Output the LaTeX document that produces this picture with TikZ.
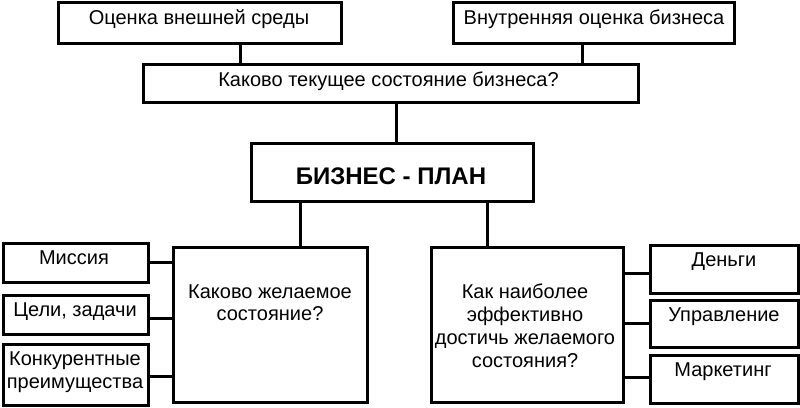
\documentclass[tikz,border=0pt]{standalone}
\usepackage{fontspec}
\setmainfont{Liberation Sans}
\usetikzlibrary{calc}
\begin{document}
\begin{tikzpicture}[x=1pt,y=-1pt,
  box/.style={draw=black,line width=3pt,rectangle,inner sep=0pt,fill=white},
  conn/.style={draw=black,line width=3pt},
  txt/.style={inner sep=0pt,font=\fontsize{20}{22.8}\selectfont,align=center},
  btxt/.style={inner sep=0pt,font=\fontsize{24}{28}\selectfont\bfseries}]
\useasboundingbox[fill=white] (0,0) rectangle (800,407);
% boxes
\node[box,minimum width=283pt,minimum height=41pt] (ext) at (199.5,22.5) {};
\node[box,minimum width=281pt,minimum height=41pt] (int) at (593.5,22.5) {};
\node[box,minimum width=495pt,minimum height=38pt] (cur) at (390.5,83) {};
\node[box,minimum width=282pt,minimum height=58pt] (bp) at (392,172) {};
\node[box,minimum width=194pt,minimum height=155pt] (want) at (270,324.5) {};
\node[box,minimum width=192pt,minimum height=155pt] (how) at (527,324.5) {};
\node[box,minimum width=145pt,minimum height=39pt] (mis) at (75.5,262.5) {};
\node[box,minimum width=145pt,minimum height=39pt] (goal) at (75.5,314.5) {};
\node[box,minimum width=145pt,minimum height=61pt] (comp) at (75.5,374.5) {};
\node[box,minimum width=148pt,minimum height=48pt] (money) at (724,269) {};
\node[box,minimum width=148pt,minimum height=47pt] (mgmt) at (724,323.5) {};
\node[box,minimum width=148pt,minimum height=48pt] (mkt) at (724,379) {};
% texts
\node[txt,anchor=base] (t-ext) at (199,24) {Оценка внешней среды};
\node[txt,anchor=base] (t-int) at (594,24) {Внутренняя оценка бизнеса};
\node[txt,anchor=base] (t-cur) at (388.5,86) {Каково текущее состояние бизнеса?};
\node[btxt,anchor=base] (t-bp) at (391,184.5) {БИЗНЕС - ПЛАН};
\node[txt] (t-want) at (270,302.7) {Каково желаемое\\состояние?};
\node[txt] (t-how) at (525,325.7) {Как наиболее\\эффективно\\достичь желаемого\\состояния?};
\node[txt,anchor=base] (t-mis) at (74,264.3) {Миссия};
\node[txt,anchor=base] (t-goal) at (75,316) {Цели, задачи};
\node[txt] (t-comp) at (75,372.5) {Конкурентные\\преимущества};
\node[txt,anchor=base] (t-money) at (724,266) {Деньги};
\node[txt,anchor=base] (t-mgmt) at (724,321.7) {Управление};
\node[txt,anchor=base] (t-mkt) at (723,376.7) {Маркетинг};
% connectors
\draw[conn] ([xshift=40.5pt]ext.south) -- ([xshift=40.5pt]ext.south |- cur.north);
\draw[conn] ([xshift=-11.5pt]int.south) -- ([xshift=-11.5pt]int.south |- cur.north);
\draw[conn] ([xshift=4pt]bp.north) -- ([xshift=4pt]bp.north |- cur.south);
\draw[conn] ([xshift=30pt]want.north) -- ([xshift=30pt]want.north |- bp.south);
\draw[conn] ([xshift=-40pt]how.north) -- ([xshift=-40pt]how.north |- bp.south);
\draw[conn] (mis.east) -- (mis.east -| want.west);
\draw[conn] ([yshift=-3.5pt]goal.east) -- ([yshift=-3.5pt]goal.east -| want.west);
\draw[conn] ([yshift=-1.5pt]comp.east) -- ([yshift=-1.5pt]comp.east -| want.west);
\draw[conn] ([yshift=-4pt]money.west) -- ([yshift=-4pt]money.west -| how.east);
\draw[conn] (mgmt.west) -- (mgmt.west -| how.east);
\draw[conn] ([yshift=2pt]mkt.west) -- ([yshift=2pt]mkt.west -| how.east);
\end{tikzpicture}
\end{document}
